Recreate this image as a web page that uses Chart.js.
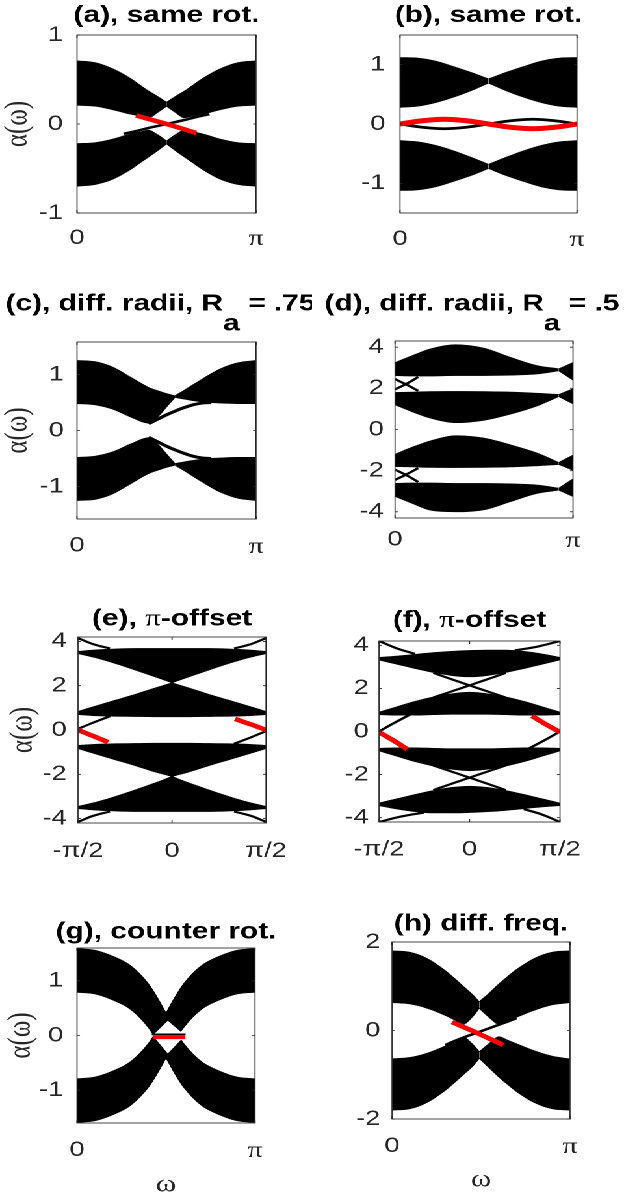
<!DOCTYPE html>
<html><head><meta charset="utf-8">
<script src="https://cdn.jsdelivr.net/npm/chart.js@4.4.1/dist/chart.umd.min.js"></script>
<style>
html,body{margin:0;padding:0;background:#fff;width:624px;height:1201px;overflow:hidden}
#stage{position:absolute;left:0;top:0;width:480px;height:1201px;transform:scaleX(1.3);transform-origin:0 0}
#stage canvas{position:absolute}
</style></head><body><div id="stage"></div>
<script>
// ---------- tick arrays ----------
const X_TICKS_PI = [0, 1];            const X_LABELS_PI = ['0', 'π'];
const X_TICKS_HALF = [-0.5, 0, 0.5];  const X_LABELS_HALF = ['-π/2', '0', 'π/2'];
const Y_TICKS_1 = [-1, 0, 1];         const Y_LABELS_1 = ['-1', '0', '1'];
const Y_TICKS_4 = [-4, -2, 0, 2, 4];  const Y_LABELS_4 = ['-4', '-2', '0', '2', '4'];
const Y_TICKS_2 = [-2, 0, 2];         const Y_LABELS_2 = ['-2', '0', '2'];

// ---------- (a) same rot. ----------
const A_XL = [0, 0.1, 0.2, 0.3, 0.35, 0.4, 0.45, 0.5];
const A_XR = [0.5, 0.55, 0.6, 0.65, 0.7, 0.8, 0.9, 1];
const A_UL_HI = [0.71, 0.69, 0.62, 0.51, 0.44, 0.37, 0.31, 0.245];
const A_UL_LO = [0.21, 0.20, 0.16, 0.11, 0.09, 0.07, 0.13, 0.20];
const A_UR_HI = [0.245, 0.31, 0.37, 0.44, 0.51, 0.62, 0.69, 0.71];
const A_UR_LO = [0.20, 0.13, 0.07, 0.09, 0.11, 0.16, 0.20, 0.21];
const A_LL_HI = [-0.22, -0.21, -0.17, -0.11, -0.09, -0.07, -0.12, -0.19];
const A_LL_LO = [-0.70, -0.68, -0.62, -0.51, -0.44, -0.37, -0.30, -0.225];
const A_LR_HI = [-0.19, -0.12, -0.07, -0.09, -0.11, -0.17, -0.21, -0.22];
const A_LR_LO = [-0.225, -0.30, -0.37, -0.44, -0.51, -0.62, -0.68, -0.70];
const A_EDGE_X = [0.26, 0.33, 0.4, 0.5, 0.6, 0.67, 0.74];
const A_EDGE_Y = [-0.11, -0.08, -0.045, 0.0, 0.045, 0.08, 0.11];
const A_RED_X = [0.33, 0.5, 0.665];
const A_RED_Y = [0.095, 0.0, -0.10];

// ---------- (b) same rot. ----------
const B_XL = [0, 0.1, 0.2, 0.3, 0.4, 0.5];
const B_XR = [0.5, 0.6, 0.7, 0.8, 0.9, 1];
const B_UL_HI = [1.12, 1.11, 1.06, 0.97, 0.87, 0.76];
const B_UL_LO = [0.28, 0.30, 0.36, 0.45, 0.56, 0.69];
const B_UR_HI = [0.76, 0.87, 0.97, 1.06, 1.11, 1.12];
const B_UR_LO = [0.69, 0.56, 0.45, 0.36, 0.30, 0.28];
const B_LL_HI = [-0.28, -0.30, -0.36, -0.45, -0.56, -0.68];
const B_LL_LO = [-1.12, -1.11, -1.06, -0.97, -0.87, -0.75];
const B_LR_HI = [-0.68, -0.56, -0.45, -0.36, -0.30, -0.28];
const B_LR_LO = [-0.75, -0.87, -0.97, -1.06, -1.11, -1.12];
const B_LINE_X = [0, 0.125, 0.25, 0.375, 0.5, 0.625, 0.75, 0.875, 1];
const B_EDGE_Y = [0, -0.055, -0.08, -0.055, 0, 0.055, 0.08, 0.055, 0];
const B_RED_Y = [0, 0.055, 0.08, 0.055, 0, -0.055, -0.08, -0.055, 0];

// ---------- (c) diff. radii, Ra = .75 ----------
const C_XL = [0, 0.1, 0.2, 0.3, 0.4, 0.45, 0.5, 0.547];
const C_XR = [0.547, 0.6, 0.7, 0.8, 0.9, 1];
const C_UL_HI = [1.25, 1.23, 1.13, 0.95, 0.77, 0.71, 0.66, 0.62];
const C_UL_LO = [0.48, 0.46, 0.38, 0.24, 0.13, 0.24, 0.42, 0.59];
const C_UR_HI = [0.62, 0.72, 0.92, 1.10, 1.21, 1.25];
const C_UR_LO = [0.59, 0.56, 0.51, 0.49, 0.48, 0.48];
const C_LL_HI = [-0.48, -0.46, -0.38, -0.24, -0.13, -0.24, -0.42, -0.59];
const C_LL_LO = [-1.25, -1.23, -1.13, -0.95, -0.77, -0.71, -0.66, -0.62];
const C_LR_HI = [-0.59, -0.56, -0.51, -0.49, -0.48, -0.48];
const C_LR_LO = [-0.62, -0.72, -0.92, -1.10, -1.21, -1.25];
const C_EDGE_X = [0.40, 0.45, 0.5, 0.55, 0.6, 0.65, 0.7, 0.75];
const C_EDGE_UP = [0.12, 0.2, 0.28, 0.35, 0.41, 0.46, 0.49, 0.5];
const C_EDGE_DN = [-0.12, -0.2, -0.28, -0.35, -0.41, -0.46, -0.49, -0.5];

// ---------- (d) diff. radii, Ra = .5 ----------
const D_X = [0, 0.1, 0.2, 0.34, 0.5, 0.65, 0.8, 0.92];
const D_XE = [0.92, 1];
const D_B1_HI = [3.25, 3.6, 3.92, 4.12, 3.95, 3.5, 3.1, 2.95];
const D_B1_LO = [2.62, 2.6, 2.6, 2.62, 2.62, 2.64, 2.7, 2.85];
const D_B1E_HI = [2.95, 3.25];
const D_B1E_LO = [2.85, 2.4];
const D_B2_HI = [1.8, 1.82, 1.84, 1.85, 1.84, 1.82, 1.76, 1.7];
const D_B2_LO = [1.2, 0.85, 0.55, 0.33, 0.45, 0.75, 1.15, 1.6];
const D_B2E_HI = [1.7, 1.98];
const D_B2E_LO = [1.6, 1.25];
const D_B3_HI = [-1.2, -0.85, -0.55, -0.3, -0.42, -0.75, -1.15, -1.6];
const D_B3_LO = [-1.8, -1.82, -1.84, -1.85, -1.84, -1.82, -1.76, -1.7];
const D_B3E_HI = [-1.6, -1.25];
const D_B3E_LO = [-1.7, -1.98];
const D_B4_HI = [-2.62, -2.6, -2.6, -2.62, -2.62, -2.64, -2.7, -2.85];
const D_B4_LO = [-3.25, -3.6, -3.92, -4.0, -3.9, -3.5, -3.1, -2.95];
const D_B4E_HI = [-2.85, -2.4];
const D_B4E_LO = [-2.95, -3.25];
const D_LX = [0, 0.06, 0.13];
const D_LX_P = [2.45, 2.2, 1.88];
const D_LX_Q = [1.95, 2.2, 2.55];
const D_LX_R = [-2.45, -2.2, -1.88];
const D_LX_S = [-1.95, -2.2, -2.55];

// ---------- (e) pi-offset ----------
const E_XL = [-0.5, -0.4, -0.3, -0.2, -0.1, 0];
const E_XR = [0, 0.1, 0.2, 0.3, 0.4, 0.5];
const E_B1L_HI = [3.55, 3.62, 3.66, 3.68, 3.68, 3.68];
const E_B1L_LO = [3.45, 3.25, 3.0, 2.72, 2.43, 2.13];
const E_B1R_HI = [3.68, 3.68, 3.68, 3.66, 3.62, 3.55];
const E_B1R_LO = [2.13, 2.43, 2.72, 3.0, 3.25, 3.45];
const E_B2L_HI = [0.84, 1.1, 1.35, 1.6, 1.87, 2.13];
const E_B2L_LO = [0.70, 0.64, 0.62, 0.61, 0.60, 0.60];
const E_B2R_HI = [2.13, 1.87, 1.6, 1.35, 1.1, 0.84];
const E_B2R_LO = [0.60, 0.60, 0.61, 0.62, 0.64, 0.70];
const E_B3L_HI = [-0.70, -0.64, -0.62, -0.61, -0.60, -0.60];
const E_B3L_LO = [-0.84, -1.1, -1.35, -1.6, -1.87, -2.1];
const E_B3R_HI = [-0.60, -0.60, -0.61, -0.62, -0.64, -0.70];
const E_B3R_LO = [-2.1, -1.87, -1.6, -1.35, -1.1, -0.84];
const E_B4L_HI = [-3.45, -3.25, -3.0, -2.72, -2.42, -2.1];
const E_B4L_LO = [-3.55, -3.62, -3.66, -3.68, -3.68, -3.68];
const E_B4R_HI = [-2.1, -2.42, -2.72, -3.0, -3.25, -3.45];
const E_B4R_LO = [-3.68, -3.68, -3.68, -3.66, -3.62, -3.55];
const E_CL_X = [-0.5, -0.42, -0.33];
const E_CR_X = [0.33, 0.42, 0.5];
const E_TL_Y = [4.15, 3.88, 3.68];
const E_TR_Y = [3.68, 3.88, 4.15];
const E_BL_Y = [-4.15, -3.88, -3.68];
const E_BR_Y = [-3.68, -3.88, -4.15];
const E_EDGE_L_Y = [0.05, 0.33, 0.62];
const E_EDGE_R_Y = [-0.62, -0.33, -0.05];
const E_RED_L_X = [-0.5, -0.42, -0.34];
const E_RED_L_Y = [0.0, -0.27, -0.55];
const E_RED_R_X = [0.335, 0.42, 0.5];
const E_RED_R_Y = [0.50, 0.25, 0.0];

// ---------- (f) pi-offset ----------
const F_X = [-0.5, -0.4, -0.3, -0.2, -0.1, 0, 0.1, 0.2, 0.3, 0.4, 0.5];
const F_B1_HI = [3.44, 3.5, 3.58, 3.66, 3.72, 3.76, 3.78, 3.78, 3.72, 3.6, 3.44];
const F_B1_LO = [3.32, 3.12, 2.92, 2.74, 2.6, 2.54, 2.6, 2.74, 2.92, 3.12, 3.32];
const F_B2_HI = [0.9, 1.15, 1.4, 1.6, 1.75, 1.82, 1.75, 1.6, 1.4, 1.15, 0.9];
const F_B2_LO = [0.78, 0.76, 0.76, 0.78, 0.8, 0.8, 0.8, 0.78, 0.76, 0.76, 0.78];
const F_B3_HI = [-0.78, -0.76, -0.76, -0.78, -0.8, -0.8, -0.8, -0.78, -0.76, -0.76, -0.78];
const F_B3_LO = [-0.9, -1.15, -1.4, -1.6, -1.75, -1.82, -1.75, -1.6, -1.4, -1.15, -0.9];
const F_B4_HI = [-3.32, -3.12, -2.92, -2.74, -2.6, -2.54, -2.6, -2.74, -2.92, -3.12, -3.32];
const F_B4_LO = [-3.44, -3.6, -3.72, -3.78, -3.78, -3.76, -3.72, -3.66, -3.58, -3.5, -3.44];
const F_CX = [-0.2, 0, 0.2];
const F_C1 = [2.72, 2.14, 1.58];
const F_C2 = [1.58, 2.14, 2.72];
const F_C3 = [-2.72, -2.14, -1.58];
const F_C4 = [-1.58, -2.14, -2.72];
const F_TL_X = [-0.5, -0.4, -0.3];   const F_TL_Y = [4.2, 3.85, 3.6];
const F_TR_X = [0.25, 0.38, 0.5];    const F_TR_Y = [3.76, 3.95, 4.2];
const F_BL_X = [-0.5, -0.38, -0.25]; const F_BL_Y = [-4.2, -3.95, -3.76];
const F_BR_X = [0.3, 0.4, 0.5];      const F_BR_Y = [-3.6, -3.85, -4.2];
const F_EDGE_L_X = [-0.5, -0.42, -0.33]; const F_EDGE_L_Y = [0.0, 0.38, 0.78];
const F_EDGE_R_X = [0.33, 0.42, 0.5];    const F_EDGE_R_Y = [-0.78, -0.38, 0.0];
const F_RED_L_X = [-0.5, -0.42, -0.345]; const F_RED_L_Y = [-0.03, -0.42, -0.82];
const F_RED_R_X = [0.345, 0.42, 0.5];    const F_RED_R_Y = [0.72, 0.34, -0.03];

// ---------- (g) counter rot. ----------
const G_X = [0, 0.1, 0.2, 0.3, 0.4, 0.45, 0.5, 0.55, 0.6, 0.7, 0.8, 0.9, 1];
const G_P_HI = [1.59, 1.56, 1.45, 1.28, 0.95, 0.70, 0.41, 0.10, -0.15, -0.48, -0.65, -0.76, -0.79];
const G_P_LO = [0.79, 0.76, 0.65, 0.48, 0.15, -0.10, -0.41, -0.70, -0.95, -1.28, -1.45, -1.56, -1.59];
const G_Q_HI = [-0.79, -0.76, -0.65, -0.48, -0.15, 0.10, 0.41, 0.70, 0.95, 1.28, 1.45, 1.56, 1.59];
const G_Q_LO = [-1.59, -1.56, -1.45, -1.28, -0.95, -0.70, -0.41, -0.10, 0.15, 0.48, 0.65, 0.76, 0.79];
const G_DIA_X = [0.425, 0.51, 0.607];
const G_DIA_HI = [0, 0.27, 0];
const G_DIA_LO = [0, -0.33, 0];
const G_EDGE_X = [0.42, 0.61];  const G_EDGE_Y = [0.02, 0.02];
const G_RED_X = [0.425, 0.607]; const G_RED_Y = [-0.03, -0.03];

// ---------- (h) diff. freq. ----------
const H_XL = [0, 0.1, 0.2, 0.3, 0.35, 0.4, 0.45, 0.49];
const H_XR = [0.49, 0.55, 0.6, 0.65, 0.7, 0.8, 0.9, 1];
const H_UL_HI = [1.8, 1.77, 1.62, 1.35, 1.18, 1.0, 0.82, 0.65];
const H_UL_LO = [0.63, 0.60, 0.50, 0.34, 0.24, 0.14, 0.30, 0.50];
const H_UR_HI = [0.65, 0.86, 1.05, 1.22, 1.38, 1.63, 1.77, 1.8];
const H_UR_LO = [0.50, 0.28, 0.14, 0.22, 0.30, 0.46, 0.58, 0.63];
const H_LL_HI = [-0.64, -0.61, -0.51, -0.35, -0.25, -0.15, -0.30, -0.48];
const H_LL_LO = [-1.8, -1.77, -1.62, -1.35, -1.18, -1.0, -0.82, -0.63];
const H_LR_HI = [-0.48, -0.28, -0.14, -0.22, -0.30, -0.46, -0.58, -0.64];
const H_LR_LO = [-0.63, -0.86, -1.05, -1.22, -1.38, -1.63, -1.77, -1.8];
const H_EDGE_X = [0.3, 0.35, 0.4, 0.49, 0.6, 0.65, 0.7];
const H_EDGE_Y = [-0.33, -0.24, -0.16, -0.03, 0.13, 0.2, 0.28];
const H_RED_X = [0.337, 0.48, 0.624];
const H_RED_Y = [0.19, -0.06, -0.33];

// ---------- rendering ----------
const S = 1.3;
const RED = '#ff0000', BLK = '#000000';
const TB = 'bold 23px "Liberation Sans", Arial, sans-serif';
const TPI = '24px "Liberation Serif", serif';
const stage = document.getElementById('stage');
function pts(xs, ys) { return xs.map((x, i) => ({x: x, y: ys[i]})); }

const boxPlugin = {
  id: 'mbox',
  afterDatasetsDraw(chart) {
    const {ctx, chartArea: a, scales: {x, y}} = chart;
    ctx.save();
    ctx.strokeStyle = '#262626'; ctx.lineWidth = 0.85;
    ctx.strokeRect(a.left, a.top, a.right - a.left, a.bottom - a.top);
    ctx.beginPath();
    const tx = 3, ty = 3 / S;
    x.ticks.forEach(t => { const px = x.getPixelForValue(t.value);
      ctx.moveTo(px, a.bottom); ctx.lineTo(px, a.bottom - tx); ctx.moveTo(px, a.top); ctx.lineTo(px, a.top + tx); });
    y.ticks.forEach(t => { const py = y.getPixelForValue(t.value);
      ctx.moveTo(a.left, py); ctx.lineTo(a.left + ty, py); ctx.moveTo(a.right, py); ctx.lineTo(a.right - ty, py); });
    ctx.stroke();
    ctx.restore();
  }
};
function titlePlugin(p) {
  return {
    id: 'mtitle',
    afterDraw(chart) {
      const {ctx, chartArea: a} = chart;
      ctx.save();
      const widths = p.title.map(part => { ctx.font = part[1]; return ctx.measureText(part[0]).width; });
      const total = widths.reduce((s, w) => s + w, 0);
      let x0 = (a.left + a.right) / 2 + (p.tdx || 0) / S - total / 2;
      const yb = a.top - p.tdy;
      ctx.fillStyle = '#000'; ctx.textAlign = 'left'; ctx.textBaseline = 'alphabetic';
      p.title.forEach((part, i) => { ctx.font = part[1]; ctx.fillText(part[0], x0, yb + (part[2] || 0)); x0 += widths[i]; });
      ctx.restore();
    }
  };
}

function makePanel(p) {
  const cx = p.col === 0 ? 0 : 240, cw = 240;
  const ct = p.T - 50, ch = (p.B + 80) - ct;
  const cv = document.createElement('canvas');
  cv.style.left = cx + 'px'; cv.style.top = ct + 'px';
  cv.style.width = cw + 'px'; cv.style.height = ch + 'px';
  cv.width = cw; cv.height = ch;
  stage.appendChild(cv);
  const datasets = [];
  const smooth = {pointRadius: 0, cubicInterpolationMode: 'monotone', borderCapStyle: 'butt'};
  const straight = {pointRadius: 0, tension: 0, borderCapStyle: 'butt'};
  p.bands.forEach(b => {
    datasets.push({...smooth, data: pts(b[0], b[1]), borderColor: BLK, borderWidth: 0.7, fill: false, order: 3});
    datasets.push({...smooth, data: pts(b[0], b[2]), borderColor: BLK, borderWidth: 0.7, backgroundColor: BLK, fill: '-1', order: 3});
  });
  (p.whites || []).forEach(b => {
    datasets.push({...straight, data: pts(b[0], b[1]), borderColor: 'rgba(0,0,0,0)', borderWidth: 0, fill: false, order: 2});
    datasets.push({...straight, data: pts(b[0], b[2]), borderColor: 'rgba(0,0,0,0)', borderWidth: 0, backgroundColor: '#fff', fill: '-1', order: 2});
  });
  p.lines.forEach(l => {
    datasets.push({...smooth, data: pts(l[0], l[1]), borderColor: l[2], borderWidth: l[3], fill: false, order: l[2] === RED ? 0 : 1});
  });
  new Chart(cv, {
    type: 'line',
    data: {datasets: datasets},
    options: {
      responsive: false, animation: false, devicePixelRatio: 2, events: [],
      layout: {padding: {left: 0, top: 50, right: cw - (p.R / S - cx), bottom: 0}},
      plugins: {legend: {display: false}, tooltip: {enabled: false}, title: {display: false}},
      elements: {point: {radius: 0}},
      scales: {
        x: {
          type: 'linear', min: p.xmin, max: p.xmax,
          grid: {display: false, drawTicks: false}, border: {display: false},
          afterBuildTicks: s => { s.ticks = p.xticks.map(v => ({value: v})); },
          afterFit: s => { s.height = 80; s.paddingLeft = 0; s.paddingRight = 0; },
          ticks: {
            autoSkip: false, maxRotation: 0, minRotation: 0, padding: p.xpad, color: '#262626',
            font: c => (c.tick && c.tick.label === 'π') ? {family: '"Liberation Serif", serif', size: 23} : {family: '"Liberation Sans", Arial, sans-serif', size: 21},
            callback: (v, i) => p.xlabels[i]
          },
          title: p.xtitle ? {display: true, text: 'ω', color: '#262626',
            font: {family: '"Liberation Serif", serif', size: 24, lineHeight: 1}, padding: {top: 0, bottom: p.xtpad}} : {display: false}
        },
        y: {
          type: 'linear', min: p.ymin, max: p.ymax,
          grid: {display: false, drawTicks: false}, border: {display: false},
          afterBuildTicks: s => { s.ticks = p.yticks.map(v => ({value: v})); },
          afterFit: s => { s.width = p.L / S - cx; s.paddingTop = 0; s.paddingBottom = 0; },
          ticks: {autoSkip: false, padding: p.ypad, color: '#262626',
            font: {family: '"Liberation Sans", Arial, sans-serif', size: 21},
            callback: (v, i) => p.ylabels[i]},
          title: p.ytitle ? {display: true, text: 'α(ω)', color: '#262626',
            font: {family: '"Liberation Serif", serif', size: 25, lineHeight: 1}, padding: {top: p.ytpad, bottom: 0}} : {display: false}
        }
      }
    },
    plugins: [boxPlugin, titlePlugin(p)]
  });
}

const panels = [
  {col: 0, L: 77, R: 256, T: 35, B: 213, xmin: 0, xmax: 1, ymin: -1, ymax: 1,
   xticks: X_TICKS_PI, xlabels: X_LABELS_PI, yticks: Y_TICKS_1, ylabels: Y_LABELS_1,
   xpad: 12.4, ypad: 10.8, ytitle: true, ytpad: 1.3, tdy: 13, tdx: 0,
   title: [['(a), same rot.', TB]],
   bands: [[A_XL, A_UL_LO, A_UL_HI], [A_XR, A_UR_LO, A_UR_HI], [A_XL, A_LL_LO, A_LL_HI], [A_XR, A_LR_LO, A_LR_HI]],
   lines: [[A_EDGE_X, A_EDGE_Y, BLK, 2.5], [A_RED_X, A_RED_Y, RED, 4.5]]},
  {col: 1, L: 400, R: 577, T: 35, B: 213, xmin: 0, xmax: 1, ymin: -1.5, ymax: 1.5,
   xticks: X_TICKS_PI, xlabels: X_LABELS_PI, yticks: Y_TICKS_1, ylabels: Y_LABELS_1,
   xpad: 13.4, ypad: 11.3, ytitle: false, tdy: 13, tdx: 0,
   title: [['(b), same rot.', TB]],
   bands: [[B_XL, B_UL_LO, B_UL_HI], [B_XR, B_UR_LO, B_UR_HI], [B_XL, B_LL_LO, B_LL_HI], [B_XR, B_LR_LO, B_LR_HI]],
   lines: [[B_LINE_X, B_EDGE_Y, BLK, 2.8], [B_LINE_X, B_RED_Y, RED, 5]]},
  {col: 0, L: 77, R: 256, T: 342, B: 519, xmin: 0, xmax: 1, ymin: -1.58, ymax: 1.58,
   xticks: X_TICKS_PI, xlabels: X_LABELS_PI, yticks: Y_TICKS_1, ylabels: Y_LABELS_1,
   xpad: 14, ypad: 10, ytitle: true, ytpad: 1.3, tdy: 31.7, tdx: -6,
   title: [['(c), diff. radii, R', TB], ['a', TB, 20], [' = .75', TB]],
   bands: [[C_XL, C_UL_LO, C_UL_HI], [C_XR, C_UR_LO, C_UR_HI], [C_XL, C_LL_LO, C_LL_HI], [C_XR, C_LR_LO, C_LR_HI]],
   lines: [[C_EDGE_X, C_EDGE_UP, BLK, 3], [C_EDGE_X, C_EDGE_DN, BLK, 3]]},
  {col: 1, L: 395, R: 573, T: 341, B: 518, xmin: 0, xmax: 1, ymin: -4.3, ymax: 4.3,
   xticks: X_TICKS_PI, xlabels: X_LABELS_PI, yticks: Y_TICKS_4, ylabels: Y_LABELS_4,
   xpad: 9, ypad: 8.7, ytitle: false, tdy: 30.7, tdx: -12,
   title: [['(d), diff. radii, R', TB], ['a', TB, 20], [' = .5', TB]],
   bands: [[D_X, D_B1_LO, D_B1_HI], [D_XE, D_B1E_LO, D_B1E_HI], [D_X, D_B2_LO, D_B2_HI], [D_XE, D_B2E_LO, D_B2E_HI],
           [D_X, D_B3_LO, D_B3_HI], [D_XE, D_B3E_LO, D_B3E_HI], [D_X, D_B4_LO, D_B4_HI], [D_XE, D_B4E_LO, D_B4E_HI]],
   lines: [[D_LX, D_LX_P, BLK, 2.2], [D_LX, D_LX_Q, BLK, 2.2], [D_LX, D_LX_R, BLK, 2.2], [D_LX, D_LX_S, BLK, 2.2]]},
  {col: 0, L: 78, R: 266, T: 637, B: 823, xmin: -0.5, xmax: 0.5, ymin: -4.2, ymax: 4.2,
   xticks: X_TICKS_HALF, xlabels: X_LABELS_HALF, yticks: Y_TICKS_4, ylabels: Y_LABELS_4,
   xpad: 15.4, ypad: 8.7, ytitle: true, ytpad: 5.2, tdy: 11.7, tdx: 0,
   title: [['(e), ', TB], ['π', TPI], ['-offset', TB]],
   bands: [[E_XL, E_B1L_LO, E_B1L_HI], [E_XR, E_B1R_LO, E_B1R_HI], [E_XL, E_B2L_LO, E_B2L_HI], [E_XR, E_B2R_LO, E_B2R_HI],
           [E_XL, E_B3L_LO, E_B3L_HI], [E_XR, E_B3R_LO, E_B3R_HI], [E_XL, E_B4L_LO, E_B4L_HI], [E_XR, E_B4R_LO, E_B4R_HI]],
   lines: [[E_CL_X, E_TL_Y, BLK, 2.2], [E_CR_X, E_TR_Y, BLK, 2.2], [E_CL_X, E_BL_Y, BLK, 2.2], [E_CR_X, E_BR_Y, BLK, 2.2],
           [E_CL_X, E_EDGE_L_Y, BLK, 2.2], [E_CR_X, E_EDGE_R_Y, BLK, 2.2],
           [E_RED_L_X, E_RED_L_Y, RED, 4.5], [E_RED_R_X, E_RED_R_Y, RED, 4.5]]},
  {col: 1, L: 379, R: 560, T: 641, B: 822, xmin: -0.5, xmax: 0.5, ymin: -4.2, ymax: 4.2,
   xticks: X_TICKS_HALF, xlabels: X_LABELS_HALF, yticks: Y_TICKS_4, ylabels: Y_LABELS_4,
   xpad: 15, ypad: 7.9, ytitle: false, tdy: 14, tdx: 0,
   title: [['(f), ', TB], ['π', TPI], ['-offset', TB]],
   bands: [[F_X, F_B1_LO, F_B1_HI], [F_X, F_B2_LO, F_B2_HI], [F_X, F_B3_LO, F_B3_HI], [F_X, F_B4_LO, F_B4_HI]],
   lines: [[F_CX, F_C1, BLK, 2.2], [F_CX, F_C2, BLK, 2.2], [F_CX, F_C3, BLK, 2.2], [F_CX, F_C4, BLK, 2.2],
           [F_TL_X, F_TL_Y, BLK, 2.2], [F_TR_X, F_TR_Y, BLK, 2.2], [F_BL_X, F_BL_Y, BLK, 2.2], [F_BR_X, F_BR_Y, BLK, 2.2],
           [F_EDGE_L_X, F_EDGE_L_Y, BLK, 2.2], [F_EDGE_R_X, F_EDGE_R_Y, BLK, 2.2],
           [F_RED_L_X, F_RED_L_Y, RED, 4.5], [F_RED_R_X, F_RED_R_Y, RED, 4.5]]},
  {col: 0, L: 77, R: 255, T: 948, B: 1123, xmin: 0, xmax: 1, ymin: -1.6, ymax: 1.6,
   xticks: X_TICKS_PI, xlabels: X_LABELS_PI, yticks: Y_TICKS_1, ylabels: Y_LABELS_1,
   xpad: 14.4, ypad: 10.5, ytitle: true, ytpad: 4, xtitle: true, xtpad: 6, tdy: 9.7, tdx: 0,
   title: [['(g), counter rot.', TB]],
   bands: [[G_X, G_P_LO, G_P_HI], [G_X, G_Q_LO, G_Q_HI]],
   whites: [[G_DIA_X, G_DIA_LO, G_DIA_HI]],
   lines: [[G_EDGE_X, G_EDGE_Y, BLK, 1.8], [G_RED_X, G_RED_Y, RED, 4]]},
  {col: 1, L: 392, R: 570, T: 942, B: 1119, xmin: 0, xmax: 1, ymin: -2, ymax: 2,
   xticks: X_TICKS_PI, xlabels: X_LABELS_PI, yticks: Y_TICKS_2, ylabels: Y_LABELS_2,
   xpad: 14.4, ypad: 9, ytitle: false, xtitle: true, xtpad: 7, tdy: 11.7, tdx: 0,
   title: [['(h) diff. freq.', TB]],
   bands: [[H_XL, H_UL_LO, H_UL_HI], [H_XR, H_UR_LO, H_UR_HI], [H_XL, H_LL_LO, H_LL_HI], [H_XR, H_LR_LO, H_LR_HI]],
   lines: [[H_EDGE_X, H_EDGE_Y, BLK, 2.5], [H_RED_X, H_RED_Y, RED, 4.5]]}
];
panels.forEach(makePanel);
</script></body></html>
